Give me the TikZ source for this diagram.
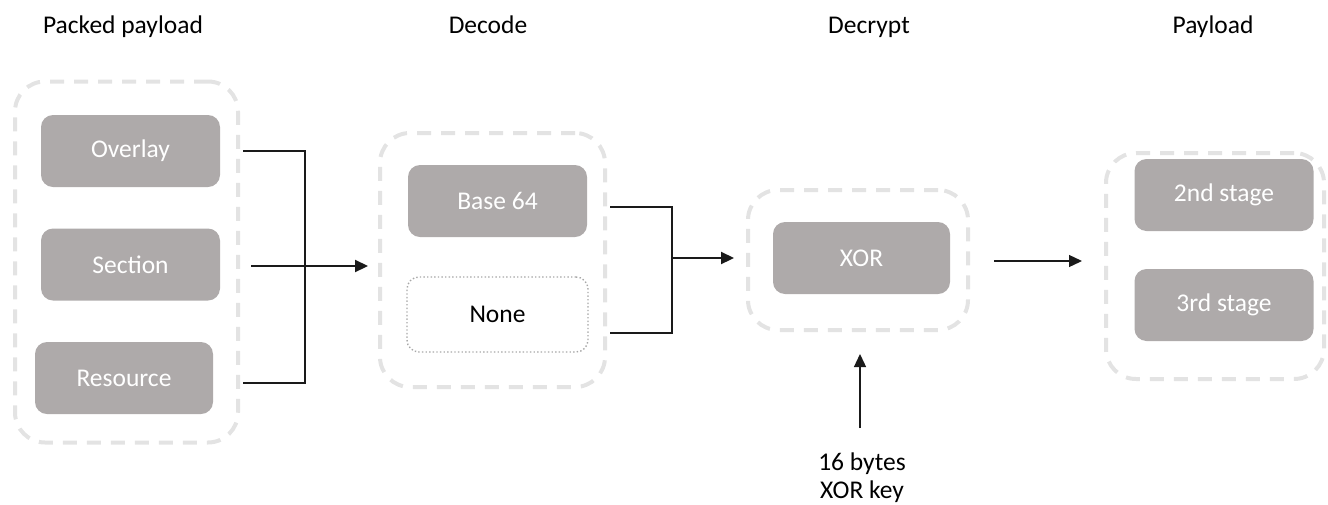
\documentclass[tikz,border=0pt]{standalone}
\usepackage{fontspec}
\setmainfont{Carlito}
\usetikzlibrary{arrows.meta}
\definecolor{boxgray}{HTML}{AEAAAA}
\definecolor{framegray}{HTML}{E3E3E3}
\definecolor{dotgray}{HTML}{A8A8A8}
\definecolor{inkline}{HTML}{1A1A1A}
\begin{document}
\begin{tikzpicture}[x=1pt,y=-1pt,
  stageframe/.style={draw=framegray, line width=4pt, dash pattern=on 14pt off 10pt,
    rounded corners=30pt, inner sep=0pt},
  stepbox/.style={fill=boxgray, rounded corners=12pt, text=white, inner sep=0pt,
    minimum width=179pt, minimum height=72pt, font=\fontsize{25.5}{28}\selectfont},
  optbox/.style={draw=dotgray, line width=1.4pt, dash pattern=on 1.4pt off 2.2pt,
    rounded corners=12pt, inner sep=0pt, minimum width=181pt, minimum height=75pt,
    font=\fontsize{25.5}{28}\selectfont},
  heading/.style={anchor=base, inner sep=0pt, font=\fontsize{25.5}{28}\selectfont},
  note/.style={align=center, inner sep=0pt, font=\fontsize{25.5}{28}\selectfont},
  link/.style={draw=inkline, line width=1.1pt},
  flow/.style={draw=inkline, line width=2.2pt, -{Triangle[length=13pt,width=12pt]}},
  thinflow/.style={draw=inkline, line width=1.3pt, -{Triangle[length=13pt,width=12pt]}}]

\useasboundingbox (0,0) rectangle (1328,504);

% stage headings
\node[heading] (hpack) at (123,33) {Packed payload};
\node[heading] (hdec)  at (488,33) {Decode};
\node[heading] (hcry)  at (869,33) {Decrypt};
\node[heading] (hpay)  at (1213,33) {Payload};

% dashed stage frames
\node[stageframe, minimum width=223pt, minimum height=361pt] (packed)  at (126.5,262) {};
\node[stageframe, minimum width=225pt, minimum height=254pt] (decode)  at (492.5,260) {};
\node[stageframe, minimum width=220pt, minimum height=140pt] (decrypt) at (858,260) {};
\node[stageframe, minimum width=218pt, minimum height=226pt] (payload) at (1215,266) {};

% packed payload sources
\node[stepbox] (ov)  at (130.5,151) {Overlay};
\node[stepbox] (sec) at (130.5,264.5) {Section};
\node[stepbox, minimum width=178pt] (res) at (124,378) {Resource};

% decoding options
\node[stepbox] (b64) at (497.5,201) {Base 64};
\node[optbox]  (none) at (497.5,314.5) {None};

% decryption
\node[stepbox, minimum width=177pt] (xor) at (861.5,258) {XOR};

% resulting stages
\node[stepbox] (st2) at (1224,195) {2nd stage};
\node[stepbox] (st3) at (1224,305) {3rd stage};

% key
\node[note] (key) at (862,478) {16 bytes\\XOR key};

% junction points
\coordinate (ovout)  at (243,151);
\coordinate (secout) at (251,266);
\coordinate (resout) at (243,383);
\coordinate (bus1t)  at (305,151);
\coordinate (bus1b)  at (305,383);
\coordinate (b64out) at (610,207);
\coordinate (noneout) at (610,333);
\coordinate (bus2t)  at (672,207);
\coordinate (bus2m)  at (672,258);
\coordinate (bus2b)  at (672,333);
\coordinate (xorout) at (994,261);
\coordinate (keytop) at (860,428);

% connectors
\draw[link] (ovout) -- (bus1t) -- (bus1b) -- (resout);
\draw[flow] (secout) -- ([xshift=-10pt]decode.west |- secout);
\draw[link] (b64out) -- (bus2t) -- (bus2b) -- (noneout);
\draw[flow] (bus2m) -- ([xshift=-12pt]decrypt.west |- bus2m);
\draw[thinflow] (xorout) -- ([xshift=-22pt]payload.west |- xorout);
\draw[thinflow] (keytop) -- ([yshift=-22pt]decrypt.south -| keytop);

\end{tikzpicture}
\end{document}
